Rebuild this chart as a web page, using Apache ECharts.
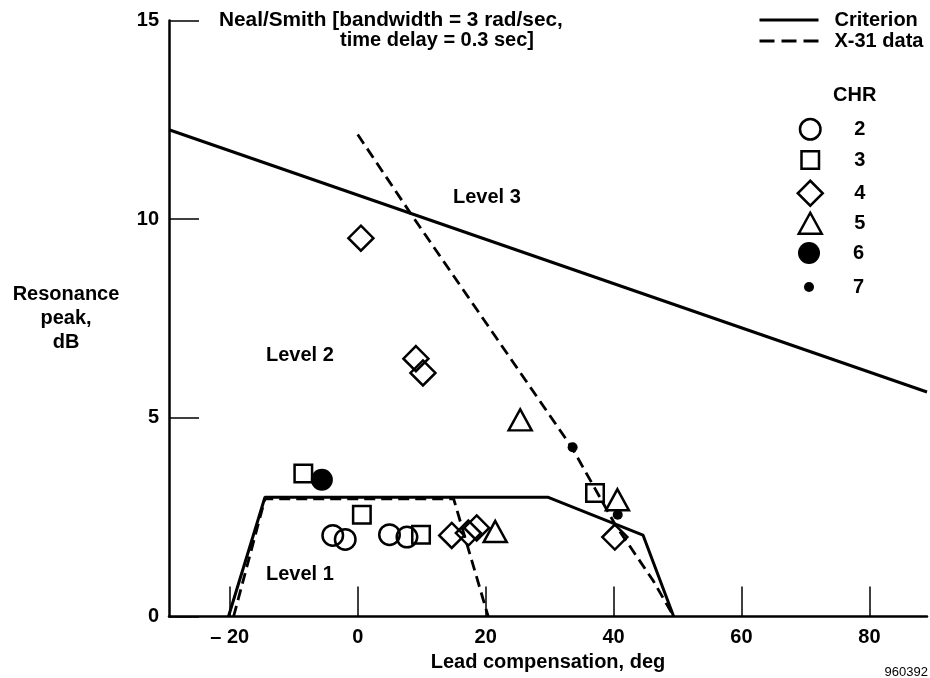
<!DOCTYPE html>
<html>
<head>
<meta charset="utf-8">
<script src="https://cdn.jsdelivr.net/npm/echarts@6/dist/echarts.min.js"></script>
<style>
html,body{margin:0;padding:0;background:#fff;}
#chart{width:930px;height:678px;}
</style>
</head>
<body>
<div id="chart"></div>
<script>
// ---- Data ----
const xTickValues = [-20, 0, 20, 40, 60, 80];
const yTickValues = [0, 5, 10, 15];

const criterionUpper = [[-29.5, 12.25], [89, 5.65]];
const criterionLower = [[-20.2, 0], [-14.5, 3.0], [29.8, 3.0], [44.6, 2.05], [49.4, 0]];
const x31Left = [[-19.4, 0], [-14.5, 2.96], [15.0, 2.96], [20.4, 0]];
const x31Steep = [[0, 12.13], [8.5, 10.09], [33.5, 4.25], [40.3, 2.3], [46.2, 0.9], [49.4, 0]];

const chrNames = ['2', '3', '4', '5', '6', '7'];
const chr2 = [[-3.9, 2.04], [-1.95, 1.94], [4.97, 2.06], [7.7, 2.0]];
const chr3 = [[-8.5, 3.6], [0.65, 2.56], [9.9, 2.06], [37.1, 3.11]];
const chr4 = [[0.5, 9.52], [9.1, 6.49], [10.2, 6.13], [14.7, 2.04], [17.3, 2.1], [18.6, 2.23], [40.2, 2.0]];
const chr5 = [[25.4, 4.95], [21.5, 2.14], [40.6, 2.94]];
const chr6 = [[-5.6, 3.44]];
const chr7 = [[33.6, 4.26], [40.65, 2.56]];
const chrData = [chr2, chr3, chr4, chr5, chr6, chr7];

// ---- Styles / layout ----
const FONT = '"Liberation Sans", Arial, Helvetica, sans-serif';
const chrStyle = [
  { symbol: 'circle', size: [20.5, 20.5], fill: 'rgba(0,0,0,0)', border: 2.5 },
  { symbol: 'rect', size: [17.5, 17.5], fill: 'rgba(0,0,0,0)', border: 2.5 },
  { symbol: 'diamond', size: [25, 25], fill: 'rgba(0,0,0,0)', border: 2.5 },
  { symbol: 'triangle', size: [23, 21], fill: 'rgba(0,0,0,0)', border: 2.5 },
  { symbol: 'circle', size: [22, 22], fill: '#000', border: 0 },
  { symbol: 'circle', size: [10, 10], fill: '#000', border: 0 }
];
const legendRowY = [128, 160, 192, 222, 253, 287];
const legendIconX = 809;
const legendTextX = 853;
const dash = [11, 6];

const chart = echarts.init(document.getElementById('chart'), null, { renderer: 'canvas' });

const series = [
  { name: 'Criterion', type: 'line', data: criterionUpper, symbol: 'none', itemStyle: { color: '#000' }, lineStyle: { color: '#000', width: 3 }, z: 3 },
  { name: 'Criterion', type: 'line', data: criterionLower, symbol: 'none', itemStyle: { color: '#000' }, lineStyle: { color: '#000', width: 3 }, z: 3 },
  { name: 'X-31 data', type: 'line', data: x31Left, symbol: 'none', itemStyle: { color: '#000' }, lineStyle: { color: '#000', width: 2.8, type: dash }, z: 3 },
  { name: 'X-31 data', type: 'line', data: x31Steep, symbol: 'none', itemStyle: { color: '#000' }, lineStyle: { color: '#000', width: 2.8, type: dash }, z: 3 }
];
chrNames.forEach((n, i) => {
  const s = chrStyle[i];
  series.push({
    name: n, type: 'scatter', data: chrData[i],
    symbol: s.symbol, symbolSize: s.size,
    itemStyle: { color: s.fill, borderColor: '#000', borderWidth: s.border, opacity: 1 },
    z: 4
  });
});

const lineLegend = (name, top, type) => ({
  data: [name],
  orient: 'vertical', left: 758, top: top, padding: 0,
  itemWidth: 59, itemHeight: 14,
  selectedMode: false,
  itemStyle: { color: 'rgba(0,0,0,0)', borderWidth: 0, opacity: 0 },
  lineStyle: { width: 3, color: '#000', type: type },
  textStyle: { fontFamily: FONT, fontWeight: 'bold', fontSize: 20, color: '#000', padding: [0, 0, 0, 11] }
});
const legends = [lineLegend('Criterion', 10, 'solid'), lineLegend('X-31 data', 31, [15, 7])];
chrNames.forEach((n, i) => {
  const s = chrStyle[i];
  const w = s.size[0], h = s.size[1];
  legends.push({
    data: [n], orient: 'vertical', padding: 0,
    left: legendIconX - w / 2,
    top: legendRowY[i] - Math.max(h, 20) / 2,
    itemWidth: w, itemHeight: h,
    selectedMode: false,
    itemStyle: { borderWidth: s.border },
    textStyle: { fontFamily: FONT, fontWeight: 'bold', fontSize: 20, color: '#000', padding: [0, 0, 0, legendTextX - legendIconX - w / 2 - 5] }
  });
});

const txt = (x, y, text, extra) => ({
  type: 'text', x: x, y: y, silent: true,
  style: Object.assign({ text: text, fill: '#000', font: 'bold 20px ' + FONT, align: 'left', verticalAlign: 'middle' }, extra || {})
});

chart.setOption({
  animation: false,
  backgroundColor: '#fff',
  grid: { left: 169, right: 3, top: 20.5, bottom: 61.5, containLabel: false },
  xAxis: {
    type: 'value', min: -29.5, max: 89,
    name: 'Lead compensation, deg', nameLocation: 'middle', nameGap: 30,
    nameTextStyle: { fontFamily: FONT, fontWeight: 'bold', fontSize: 20, color: '#000' },
    axisLine: { show: true, onZero: false, lineStyle: { color: '#000', width: 2.5 } },
    axisTick: { show: true, inside: true, length: 30, customValues: xTickValues, lineStyle: { color: '#000', width: 1.5 } },
    axisLabel: {
      customValues: xTickValues, margin: 11,
      fontFamily: FONT, fontWeight: 'bold', fontSize: 20, color: '#000',
      formatter: v => (v < 0 ? '\u2013 ' + Math.abs(v) : String(v))
    },
    splitLine: { show: false }
  },
  yAxis: {
    type: 'value', min: 0, max: 15, interval: 5,
    axisLine: { show: true, onZero: false, lineStyle: { color: '#000', width: 2.5 } },
    axisTick: { show: true, inside: true, length: 30, customValues: yTickValues, lineStyle: { color: '#000', width: 1.5 } },
    axisLabel: { margin: 10, customValues: yTickValues, fontFamily: FONT, fontWeight: 'bold', fontSize: 20, color: '#000' },
    splitLine: { show: false }
  },
  legend: legends,
  graphic: [
    txt(219, 20, 'Neal/Smith [bandwidth = 3 rad/sec,', { font: 'bold 20.8px ' + FONT }),
    txt(340, 40, 'time delay = 0.3 sec]'),
    txt(833, 95, 'CHR'),
    txt(453, 197, 'Level 3'),
    txt(266, 355, 'Level 2'),
    txt(266, 574, 'Level 1'),
    txt(66, 282, 'Resonance\npeak,\ndB', { align: 'center', verticalAlign: 'top', lineHeight: 24 }),
    txt(928, 672, '960392', { align: 'right', font: '13px ' + FONT })
  ],
  series: series
});
</script>
</body>
</html>
